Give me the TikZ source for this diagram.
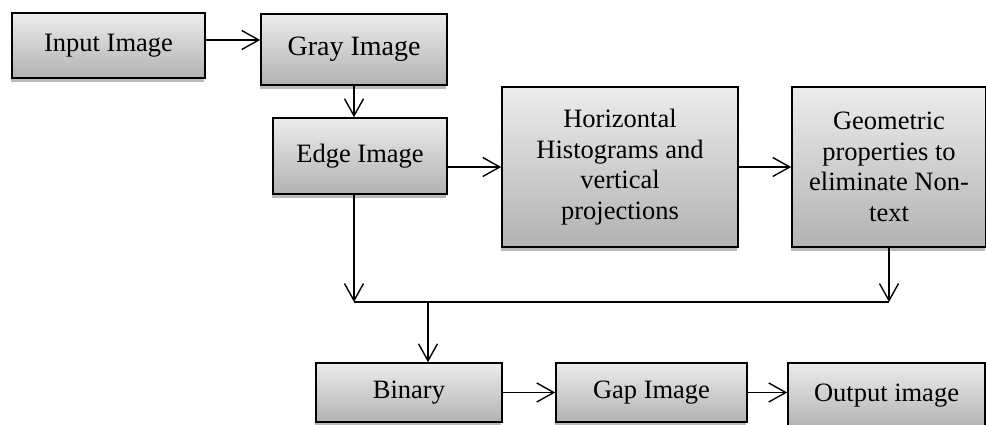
\documentclass[tikz,border=0pt]{standalone}
\usepackage{fontspec}
\setmainfont{Liberation Serif}
\usetikzlibrary{arrows.meta,shadows}
\definecolor{boxtop}{RGB}{236,236,236}
\definecolor{boxbottom}{RGB}{178,178,178}

\begin{document}
\begin{tikzpicture}[x=1pt,y=-1pt,
		block/.style={draw,line width=1.6pt,top color=boxtop,bottom color=boxbottom,
			drop shadow={shadow xshift=-1.5pt,shadow yshift=-4pt,fill=black!45,opacity=.6},
			inner sep=0pt,align=center,font=\fontsize{26.5}{30.5}\selectfont},
		arr/.style={line width=1.4pt,-{Straight Barb[length=17pt,width=19pt]}}]
		\useasboundingbox (0,0) rectangle (986,425);
		\clip (0,0) rectangle (986,425);
		\node[block,minimum width=193pt,minimum height=65pt] (input) at (108.5,45.5) {Input Image};
		\node[block,minimum width=186pt,minimum height=71pt,font=\fontsize{28}{32}\selectfont] (gray) at (354,49.5) {Gray Image};
		\node[block,minimum width=174pt,minimum height=76pt] (edge) at (360,156) {Edge Image};
		\node[block,minimum width=236pt,minimum height=160pt] (horiz) at (620,167)
			{Horizontal\\Histograms and\\vertical\\projections};
		\node[block,minimum width=194pt,minimum height=160pt] (geom) at (889,167)
			{Geometric\\properties to\\eliminate Non-\\text};
		\node[block,minimum width=186pt,minimum height=59pt] (binary) at (409,392.5) {Binary};
		\node[block,minimum width=191pt,minimum height=59pt] (gap) at (651.5,392.5) {Gap Image};
		\node[block,minimum width=197pt,minimum height=66pt] (output) at (886.5,396) {Output image};
		\coordinate (split) at (428,302);

		\draw[arr] ([yshift=5.5pt]input.east) coordinate (a) -- (a -| gray.west);
		\draw[arr] (gray.south) -- (gray.south |- edge.north);
		\draw[arr] (horiz.west -| edge.east) -- (horiz.west);
		\draw[arr] (horiz.east) -- (geom.west);
		\draw[arr] (gray.south |- edge.south) -- (gray.south |- split);
		\draw[arr] (geom.south) -- (geom.south |- split);
		\draw[line width=1.4pt] (gray.south |- split) -- (geom.south |- split);
		\draw[arr] (split) -- (split |- binary.north);
		\draw[arr] (binary.east) -- (gap.west);
		\draw[arr] (gap.east) -- (gap.east -| output.west);
	\end{tikzpicture}
\end{document}
